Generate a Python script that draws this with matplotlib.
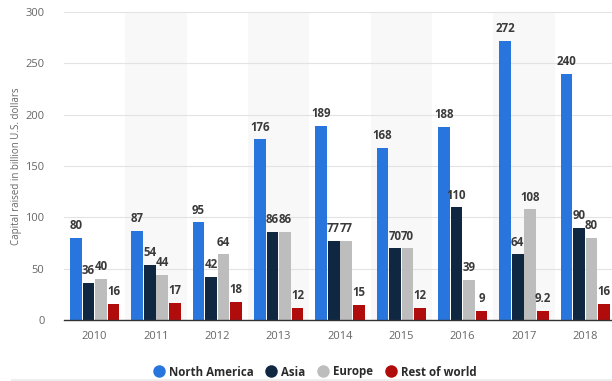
import matplotlib
matplotlib.use("Agg")
import matplotlib.pyplot as plt
import numpy as np
from matplotlib.lines import Line2D
from matplotlib.patches import Rectangle

years = ["2010", "2011", "2012", "2013", "2014", "2015", "2016", "2017", "2018"]
north_america = [80, 87, 95, 176, 189, 168, 188, 272, 240]
asia = [36, 54, 42, 86, 77, 70, 110, 64, 90]
europe = [40, 44, 64, 86, 77, 70, 39, 108, 80]
rest_of_world = [16, 17, 18, 12, 15, 12, 9, 9.2, 16]
series_names = ["North America", "Asia", "Europe", "Rest of world"]
colors = ["#2876dd", "#0f2741", "#bdbdbd", "#b10c0c"]
yticks = [0, 50, 100, 150, 200, 250, 300]

plt.rcParams['font.family'] = ['Open Sans', 'DejaVu Sans']

fig = plt.figure(figsize=(6.12, 3.81), dpi=100)
ax = fig.add_axes([64/612, 61/381, 552/612, 308/381])

x = np.arange(len(years))
width = 0.19
step = 0.205
offsets = [-1.5*step, -0.5*step, 0.5*step, 1.5*step]
series = [north_america, asia, europe, rest_of_world]

for i in range(len(years)):
    if i % 2 == 1:
        ax.axvspan(i-0.5, i+0.5, color="#f8f8f8", zorder=0, lw=0)

for vals, off, col in zip(series, offsets, colors):
    bars = ax.bar(x + off, vals, width=width, color=col, zorder=3)
    for b, v in zip(bars, vals):
        lab = ("%g" % v)
        ax.annotate(lab, (b.get_x() + b.get_width()/2, v), xytext=(0, 4),
                    textcoords="offset points", ha="center", va="bottom",
                    fontsize=8.3, fontweight="bold", color="#3a3a3a", zorder=4)

ax.set_xlim(-0.5, len(years) - 0.5)
ax.set_ylim(0, 300)
ax.set_yticks(yticks)
ax.set_xticks(x)
ax.set_xticklabels(years)
ax.grid(axis="y", color="#e3e3e3", lw=0.8, zorder=1)
for s in ["top", "right", "left"]:
    ax.spines[s].set_visible(False)
ax.spines["bottom"].set_color("#333333")
ax.spines["bottom"].set_linewidth(1.0)
ax.spines["bottom"].set_zorder(5)
ax.tick_params(axis="both", length=0, colors="#666666", labelsize=8)
ax.tick_params(axis="x", pad=8)
ax.tick_params(axis="y", pad=14)
ax.set_ylabel("Capital raised in billion U.S. dollars", fontsize=7, color="#666666")
ax.yaxis.set_label_coords(-0.076, 0.5)

handles = [Line2D([0], [0], marker="o", color="w", markerfacecolor=c, markersize=10, lw=0)
           for c in colors]
leg = fig.legend(handles, series_names, loc="center", bbox_to_anchor=(313/612, 1 - 372/381),
                 ncol=4, frameon=False, handletextpad=0.1, columnspacing=0.7,
                 handlelength=1.6, prop={"size": 8.3, "weight": "bold"})
for t in leg.get_texts():
    t.set_color("#2b2b2b")

fig.patches.append(Rectangle((11/612, 0), 1, 2.5/381, transform=fig.transFigure,
                             color="#eeeeee", lw=0, zorder=0))

fig.savefig("out.png", dpi=100)
